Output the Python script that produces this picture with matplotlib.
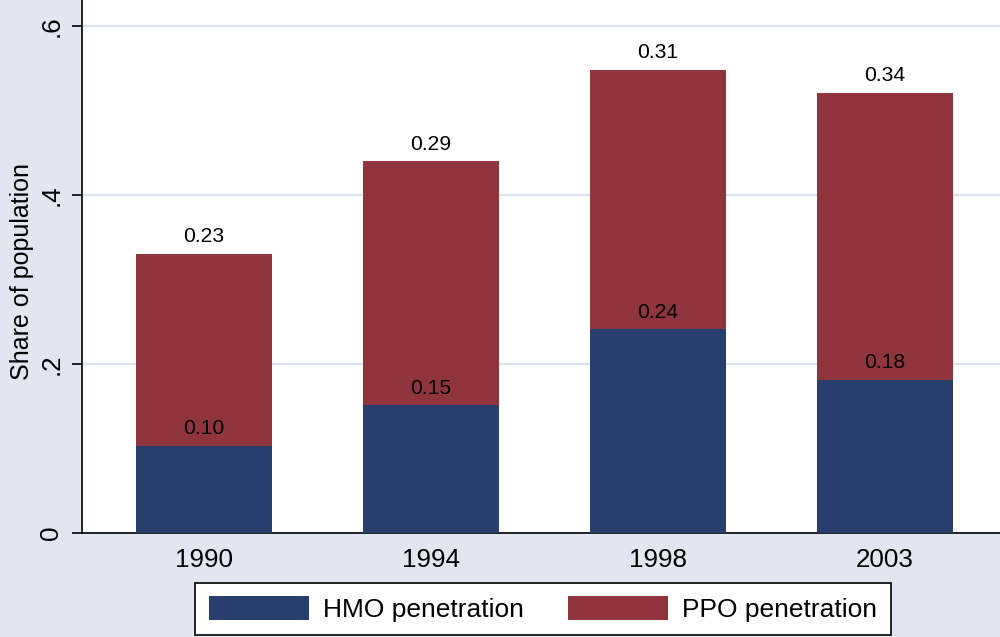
import matplotlib
matplotlib.use("Agg")
import matplotlib.pyplot as plt
from matplotlib.patches import Patch
import numpy as np

years = ["1990", "1994", "1998", "2003"]
hmo = [0.103, 0.151, 0.241, 0.181]
ppo = [0.227, 0.289, 0.307, 0.340]
hmo_labels = ["0.10", "0.15", "0.24", "0.18"]
ppo_labels = ["0.23", "0.29", "0.31", "0.34"]
yticks = [0, 0.2, 0.4, 0.6]
ytick_labels = ["0", ".2", ".4", ".6"]

plt.rcParams['font.family'] = ['Liberation Sans', 'DejaVu Sans']

bg = '#e1e6f0'
navy = '#283f6d'
maroon = '#90353b'

fig = plt.figure(figsize=(10, 6.37), dpi=100, facecolor=bg)
ax = fig.add_axes([0.082, 0.1633, 0.918, 0.8367])
ax.set_facecolor('white')

x = np.arange(len(years))
w = 0.6
ax.bar(x, hmo, width=w, color=navy, zorder=3, label='HMO penetration')
tot = np.array(hmo) + np.array(ppo)
ax.bar(x, ppo, width=w, bottom=hmo, color=maroon, zorder=3, label='PPO penetration')

for xi, h, t, hl, pl in zip(x, hmo, tot, hmo_labels, ppo_labels):
    ax.annotate(hl, (xi, h), xytext=(0, 8.5), textcoords='offset points',
                ha='center', va='baseline', fontsize=15.2, zorder=4)
    ax.annotate(pl, (xi, t), xytext=(0, 8.5), textcoords='offset points',
                ha='center', va='baseline', fontsize=15.2, zorder=4)

ax.set_xlim(-0.537, 3.507)
ax.set_ylim(0, 0.631)
ax.set_xticks(x)
ax.set_xticklabels(years, fontsize=18.7)
ax.tick_params(axis='x', length=0, pad=11)
ax.set_yticks(yticks)
ax.set_yticklabels(ytick_labels, fontsize=18.7, rotation=90, va='center')
ax.tick_params(axis='y', length=7.5, width=1.2, pad=6)
ax.grid(axis='y', color='#dde3ee', linewidth=1.6, zorder=0)
for s in ['top', 'right']:
    ax.spines[s].set_visible(False)
for s in ['left', 'bottom']:
    ax.spines[s].set_color('black')
    ax.spines[s].set_linewidth(1.2)

fig.text(0.022, 1 - 272 / 637, 'Share of population', rotation=90,
         ha='center', va='center', fontsize=18)

handles = [Patch(facecolor=navy, edgecolor='none'), Patch(facecolor=maroon, edgecolor='none')]
leg = fig.legend(handles, ['HMO penetration', 'PPO penetration'], ncol=2,
                 loc='center', bbox_to_anchor=(0.543, 1 - 609 / 637),
                 fontsize=19, frameon=True, fancybox=False, edgecolor='black',
                 facecolor='white', framealpha=1, handlelength=3.8, handleheight=1.0,
                 handletextpad=0.55, columnspacing=1.65, borderpad=0.5)
leg.get_frame().set_linewidth(1.2)

fig.savefig('out.png', dpi=100, facecolor=bg)
